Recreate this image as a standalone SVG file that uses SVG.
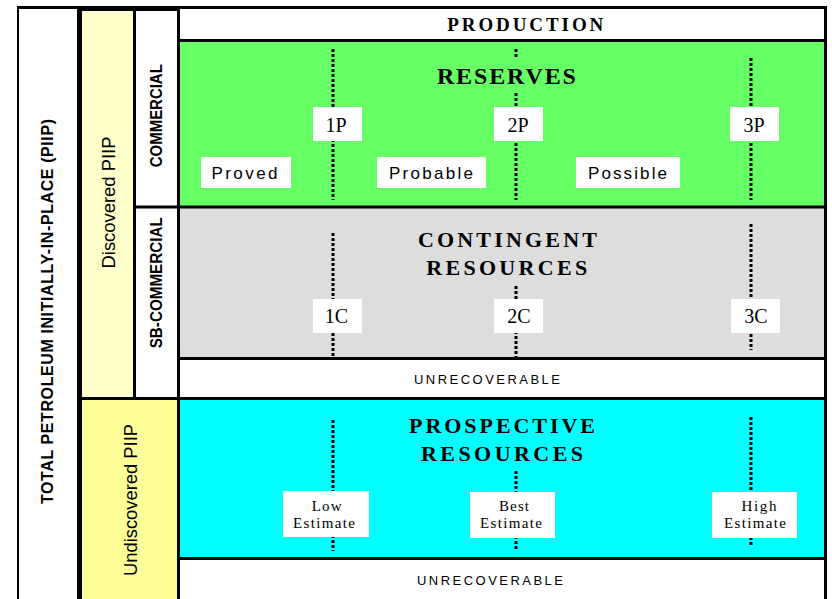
<svg xmlns="http://www.w3.org/2000/svg" width="832" height="599" viewBox="0 0 832 599">
  <style>
    .hd{font-family:"Liberation Serif","Times New Roman",serif;font-weight:bold;fill:#000;text-anchor:middle}
    .lb{font-family:"Liberation Serif","Times New Roman",serif;font-size:20px;fill:#000;text-anchor:middle}
    .est{font-family:"Liberation Serif","Times New Roman",serif;font-size:15px;fill:#000;text-anchor:middle}
    .sn{font-family:"Liberation Sans",Arial,sans-serif;fill:#000;text-anchor:middle}
    .snb{font-family:"Liberation Sans",Arial,sans-serif;font-weight:bold;fill:#000;text-anchor:middle}
    .box{fill:#fff}
    .rule{stroke:#000;fill:none}
    .dot{stroke:#000;stroke-width:3;stroke-dasharray:3 2;fill:none}
  </style>

  <rect width="832" height="599" fill="#fff"/>

  <!-- left classification columns -->
  <g id="piip">
    <text class="snb" font-size="16" textLength="385" lengthAdjust="spacing" transform="translate(53.3,311.5) rotate(-90)">TOTAL PETROLEUM INITIALLY-IN-PLACE  (PIIP)</text>
  </g>
  <g id="discovered">
    <rect x="79.5" y="9" width="55" height="389.5" fill="#FFFFCC"/>
    <text class="sn" font-size="18.5" textLength="132" lengthAdjust="spacingAndGlyphs" transform="translate(115,202.5) rotate(-90)">Discovered PIIP</text>
  </g>
  <g id="undiscovered">
    <rect x="79.5" y="398.5" width="99" height="201" fill="#FFFF99"/>
    <text class="sn" font-size="19" textLength="152" lengthAdjust="spacingAndGlyphs" transform="translate(136.5,500) rotate(-90)">Undiscovered PIIP</text>
  </g>
  <g id="commercial">
    <rect x="134.5" y="9" width="44" height="198" fill="#fff"/>
    <text class="snb" font-size="17" textLength="103" lengthAdjust="spacingAndGlyphs" transform="translate(162.3,115.7) rotate(-90)">COMMERCIAL</text>
  </g>
  <g id="sb-commercial">
    <rect x="134.5" y="207" width="44" height="191.5" fill="#fff"/>
    <text class="snb" font-size="17" textLength="131" lengthAdjust="spacingAndGlyphs" transform="translate(162.3,282.8) rotate(-90)">SB-COMMERCIAL</text>
  </g>

  <!-- resource class bands -->
  <g id="production">
    <rect x="178.5" y="7.5" width="647" height="33" fill="#fff"/>
    <text class="hd" x="525.3" y="31" font-size="19" textLength="156" lengthAdjust="spacing">PRODUCTION</text>
  </g>
  <g id="reserves">
    <rect x="178.5" y="40.5" width="647" height="166.5" fill="#66FF66"/>
    <text class="hd" x="506.4" y="84.3" font-size="24" textLength="139" lengthAdjust="spacing">RESERVES</text>
  </g>
  <g id="contingent-resources">
    <rect x="178.5" y="207" width="647" height="151.5" fill="#DDDDDD"/>
    <text class="hd" x="507.4" y="247.3" font-size="22" textLength="179" lengthAdjust="spacing">CONTINGENT</text>
    <text class="hd" x="506.7" y="275" font-size="22" textLength="161" lengthAdjust="spacing">RESOURCES</text>
  </g>
  <g id="unrecoverable-discovered">
    <rect x="178.5" y="358.5" width="647" height="40" fill="#fff"/>
    <text class="sn" x="487" y="384.3" font-size="13" textLength="146" lengthAdjust="spacing">UNRECOVERABLE</text>
  </g>
  <g id="prospective-resources">
    <rect x="178.5" y="398.5" width="647" height="160" fill="#00FFFF"/>
    <text class="hd" x="502" y="433.3" font-size="22" textLength="186" lengthAdjust="spacing">PROSPECTIVE</text>
    <text class="hd" x="502" y="460.7" font-size="22" textLength="162" lengthAdjust="spacing">RESOURCES</text>
  </g>
  <g id="unrecoverable-undiscovered">
    <rect x="178.5" y="558.5" width="647" height="41" fill="#fff"/>
    <text class="sn" x="490" y="585" font-size="13" textLength="146" lengthAdjust="spacing">UNRECOVERABLE</text>
  </g>

  <!-- frame rules -->
  <g id="frame" class="rule">
    <line x1="17" y1="7.5" x2="827" y2="7.5" stroke-width="3"/>
    <line x1="18" y1="7" x2="18" y2="599" stroke-width="2"/>
    <line x1="79.5" y1="7" x2="79.5" y2="599" stroke-width="5"/>
    <line x1="80" y1="10" x2="178" y2="10" stroke-width="2"/>
    <line x1="134.5" y1="9" x2="134.5" y2="398" stroke-width="3"/>
    <line x1="178.5" y1="7" x2="178.5" y2="599" stroke-width="3"/>
    <line x1="825.5" y1="7" x2="825.5" y2="599" stroke-width="3"/>
    <line x1="178" y1="40.5" x2="826" y2="40.5" stroke-width="3"/>
    <line x1="134" y1="207" x2="826" y2="207" stroke-width="3"/>
    <line x1="178" y1="358.5" x2="826" y2="358.5" stroke-width="3"/>
    <line x1="78" y1="398.5" x2="826" y2="398.5" stroke-width="3"/>
    <line x1="178" y1="558.5" x2="826" y2="558.5" stroke-width="3"/>
  </g>

  <!-- dotted cut-off lines -->
  <g id="connectors" class="dot">
    <path d="M333 49V200"/>
    <path d="M516 49V58M516 93V200"/>
    <path d="M751 58V200"/>
    <path d="M333 233V357"/>
    <path d="M516 286V357"/>
    <path d="M751 224V350"/>
    <path d="M333 420V551"/>
    <path d="M516 471V551"/>
    <path d="M751 417V547"/>
  </g>

  <!-- reserves labels -->
  <g id="p1"><rect class="box" x="313" y="107" width="49" height="34"/><text class="lb" x="336" y="131.7">1P</text></g>
  <g id="p2"><rect class="box" x="494" y="107" width="49" height="34"/><text class="lb" x="518" y="131.7">2P</text></g>
  <g id="p3"><rect class="box" x="730" y="107" width="49" height="34"/><text class="lb" x="754" y="131.7">3P</text></g>
  <g id="proved"><rect class="box" x="201" y="157" width="90" height="31"/><text class="sn" x="244.5" y="179.3" font-size="17" textLength="66" lengthAdjust="spacing">Proved</text></g>
  <g id="probable"><rect class="box" x="377" y="157" width="109" height="31"/><text class="sn" x="431" y="179.3" font-size="17" textLength="84" lengthAdjust="spacing">Probable</text></g>
  <g id="possible"><rect class="box" x="576" y="157" width="104" height="31"/><text class="sn" x="627.5" y="179.3" font-size="17" textLength="79" lengthAdjust="spacing">Possible</text></g>

  <!-- contingent labels -->
  <g id="c1"><rect class="box" x="313" y="299" width="49" height="34"/><text class="lb" x="336.5" y="323.3">1C</text></g>
  <g id="c2"><rect class="box" x="494" y="299" width="49" height="34"/><text class="lb" x="519" y="323.3">2C</text></g>
  <g id="c3"><rect class="box" x="731" y="299" width="49" height="34"/><text class="lb" x="756" y="323.3">3C</text></g>

  <!-- prospective labels -->
  <g id="low-estimate"><rect class="box" x="283" y="491" width="86" height="46"/>
    <text class="est" x="326.7" y="510.7" textLength="30" lengthAdjust="spacing">Low</text>
    <text class="est" x="324" y="528.3" textLength="62" lengthAdjust="spacing">Estimate</text></g>
  <g id="best-estimate"><rect class="box" x="470" y="492" width="85" height="46"/>
    <text class="est" x="514" y="510.7" textLength="30" lengthAdjust="spacing">Best</text>
    <text class="est" x="511" y="528.3" textLength="62" lengthAdjust="spacing">Estimate</text></g>
  <g id="high-estimate"><rect class="box" x="712" y="492" width="85" height="46"/>
    <text class="est" x="759" y="510.7" textLength="35" lengthAdjust="spacing">High</text>
    <text class="est" x="755" y="528.3" textLength="62" lengthAdjust="spacing">Estimate</text></g>
</svg>
